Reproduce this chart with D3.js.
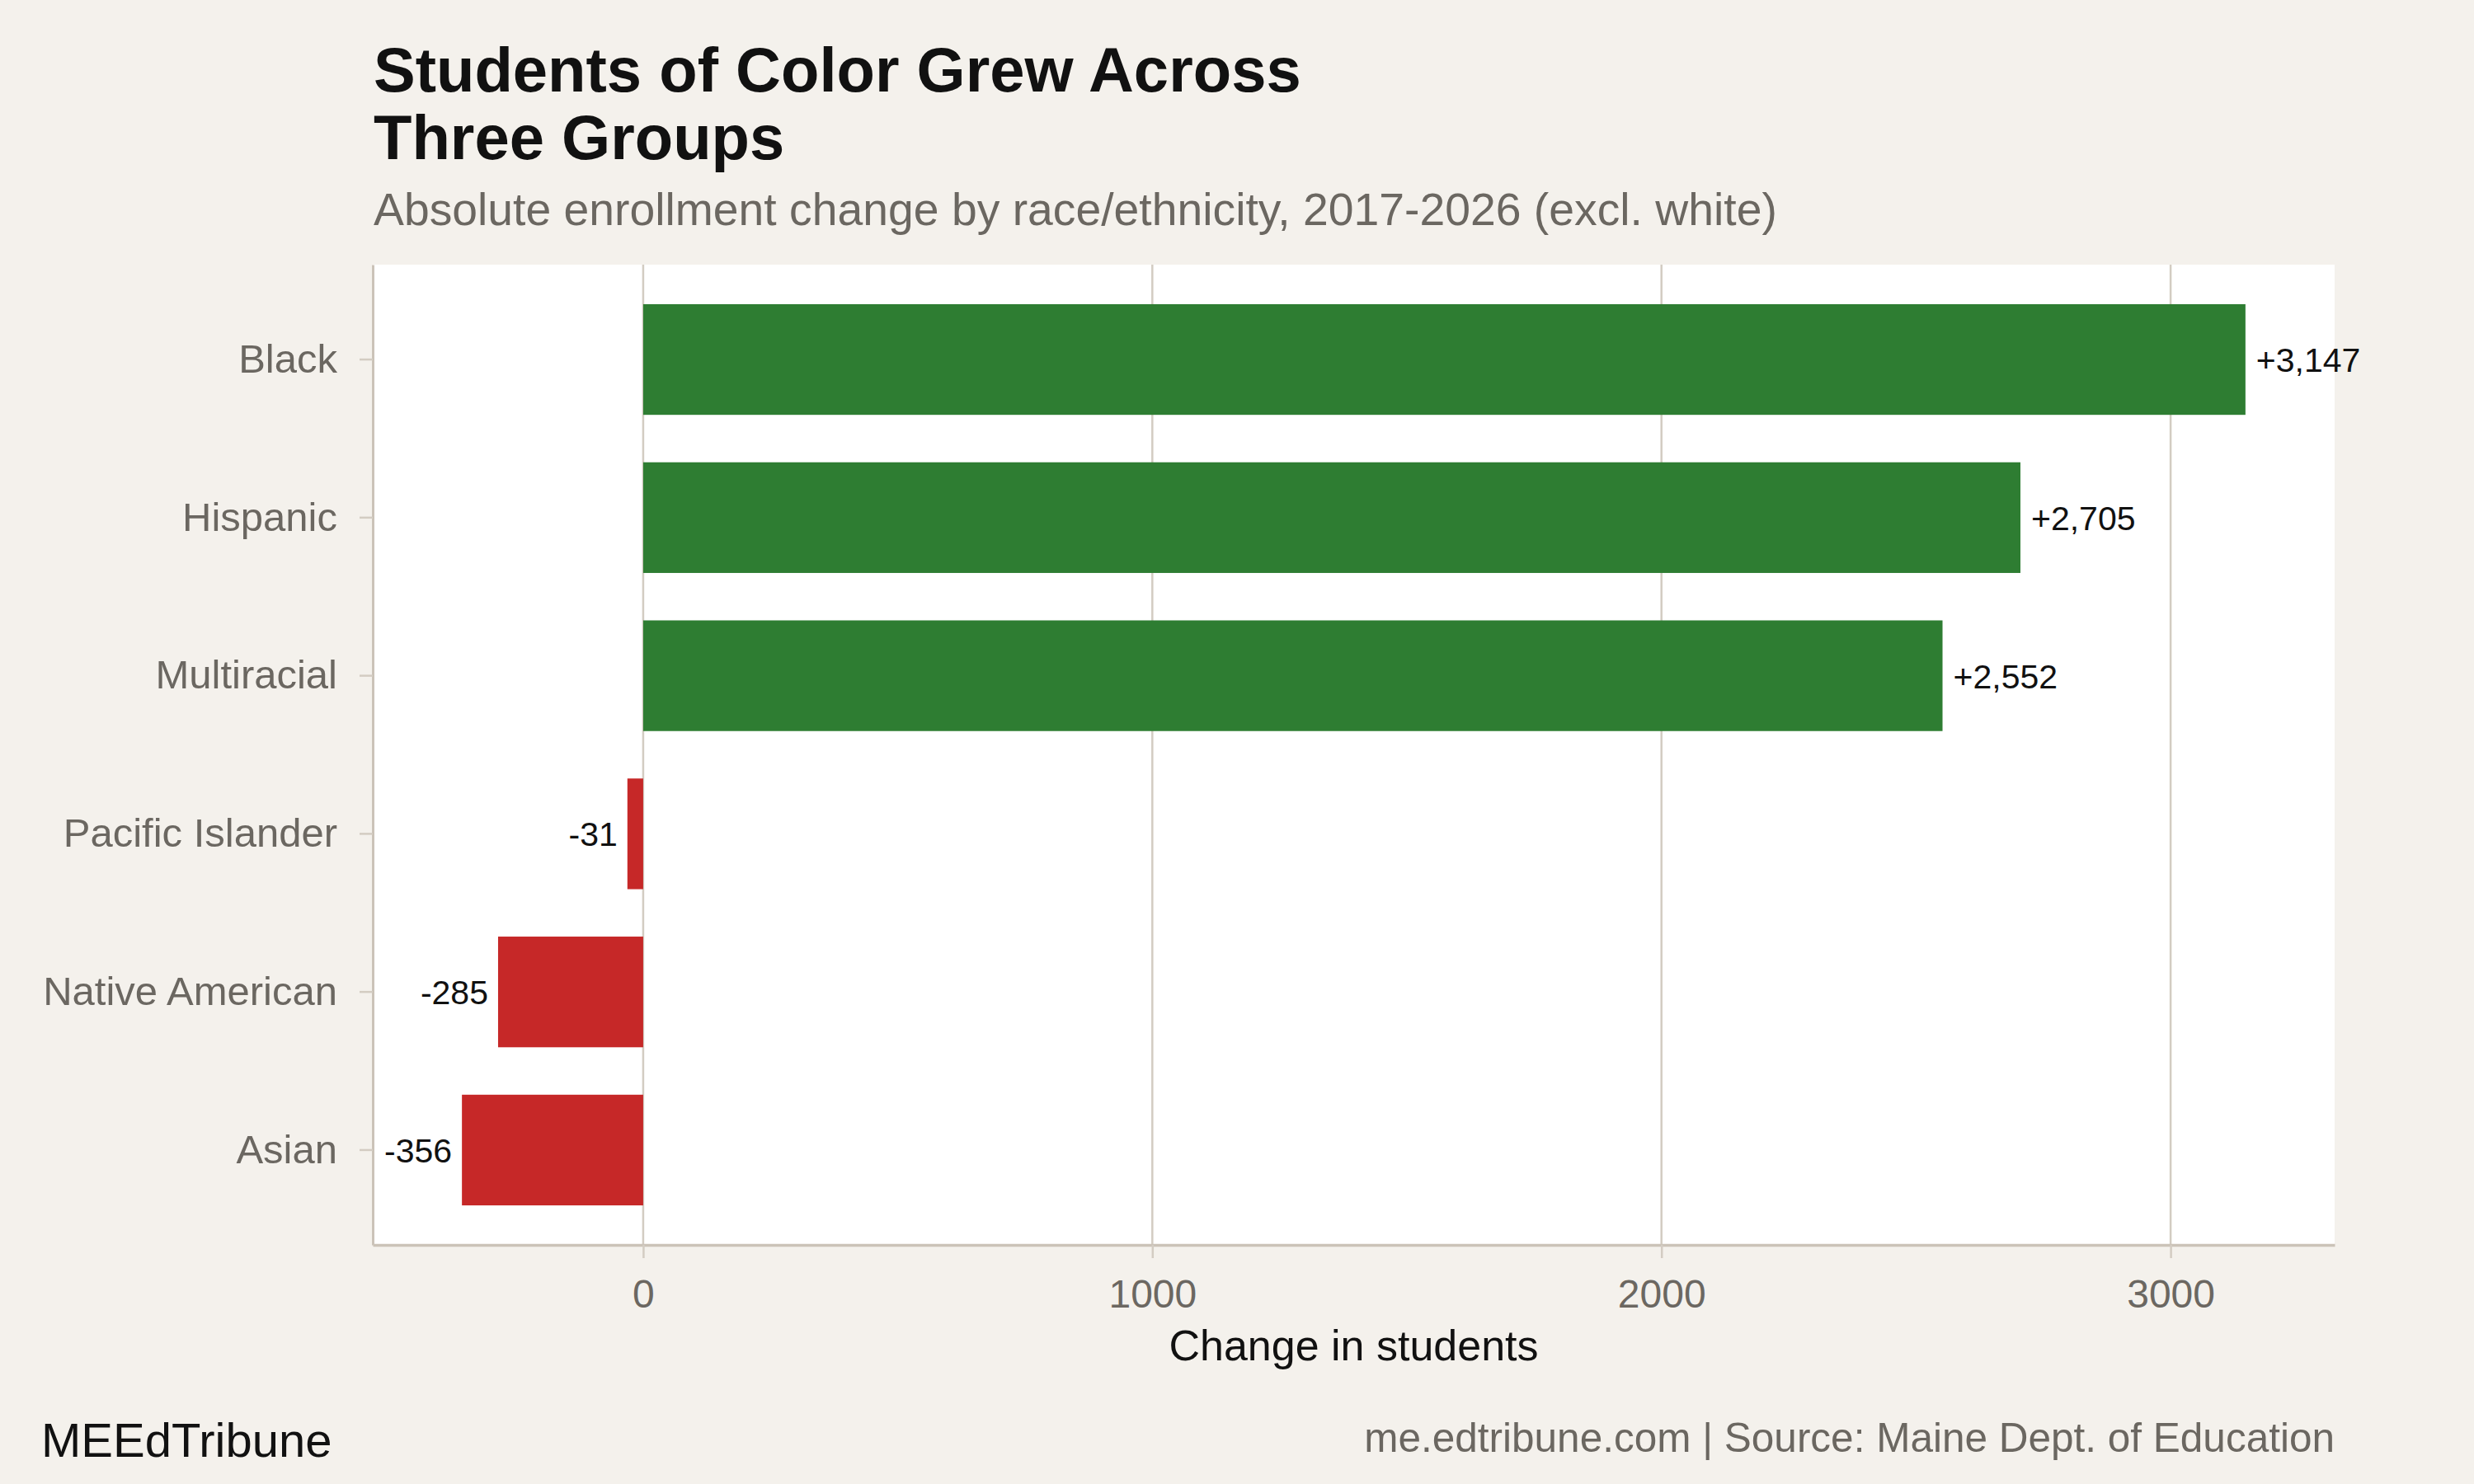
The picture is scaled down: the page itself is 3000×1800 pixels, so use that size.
<!DOCTYPE html>
<html>
<head>
<meta charset="utf-8">
<script src="https://cdn.jsdelivr.net/npm/d3@7"></script>
<style>
  body { margin: 0; background: #F4F1EC; }
  svg { display: block; font-family: "Liberation Sans", Arial, sans-serif; }
</style>
</head>
<body>
<svg></svg>
<script>
var categories = ['Black', 'Hispanic', 'Multiracial', 'Pacific Islander', 'Native American', 'Asian'];
var values = [3147, 2705, 2552, -31, -285, -356];
var xTicks = [0, 1000, 2000, 3000];

var data = categories.map(function(c, i) {
  return { group: c, change: values[i] };
});

// plain hyphen for negatives, like the original
var fmt = d3.formatLocale({decimal: ".", thousands: ",", grouping: [3], currency: ["$", ""], minus: "-"}).format(",");

var W = 3000, H = 1800;
var margin = {top: 321, right: 169, bottom: 290, left: 452},
width = W - margin.left - margin.right,
height = H - margin.top - margin.bottom;

var svg = d3.select('svg')
  .attr("width", W)
  .attr("height", H);

svg.append("rect")
  .attr("width", W).attr("height", H)
  .style("fill", "#F4F1EC");

var g = svg.append("g")
  .attr("transform", "translate(" + margin.left + "," + margin.top + ")");

// ggplot-style 5% expansion
var lo = d3.min(values), hi = d3.max(values), pad = (hi - lo) * 0.05;
var x = d3.scaleLinear()
  .domain([lo - pad, hi + pad])
  .range([0, width]);

var y = d3.scaleBand()
  .domain(categories)
  .range([0, height])
  .paddingInner(0.3)
  .paddingOuter(0.25);

g.append("rect")
  .attr("width", width).attr("height", height)
  .style("fill", "#ffffff");

// gridlines
g.selectAll('.grid')
  .data(xTicks)
  .enter().append('line')
  .attr("x1", function(d) { return x(d); })
  .attr("x2", function(d) { return x(d); })
  .attr("y1", 0).attr("y2", height)
  .style("stroke", "#D3CCC2")
  .style("stroke-width", 2.5);

g.selectAll('.bar')
  .data(data)
  .enter().append('rect')
  .attr("x", function(d) { return x(Math.min(0, d.change)); })
  .attr("y", function(d) { return y(d.group); })
  .attr("width", function(d) { return Math.abs(x(d.change) - x(0)); })
  .attr("height", y.bandwidth())
  .style("fill", function(d) { return d.change >= 0 ? "#2E7D32" : "#C62828"; });

g.selectAll('.val')
  .data(data)
  .enter().append('text')
  .attr("x", function(d) { return d.change >= 0 ? x(d.change) + 13 : x(d.change) - 12; })
  .attr("y", function(d) { return y(d.group) + y.bandwidth() / 2 + 15; })
  .style("text-anchor", function(d) { return d.change >= 0 ? "start" : "end"; })
  .style("font-size", "41px")
  .style("fill", "#111")
  .text(function(d) { return (d.change >= 0 ? "+" : "") + fmt(d.change); });

// axes
var xAxis = g.append("g")
  .attr("transform", "translate(0," + height + ")")
  .call(d3.axisBottom(x).tickValues(xTicks).tickSize(16).tickSizeOuter(0).tickPadding(26).tickFormat(d3.format("d")));
xAxis.select(".domain").style("stroke", "#CBC3B8").style("stroke-width", 3.5);
xAxis.selectAll(".tick line").style("stroke", "#D3CCC2").style("stroke-width", 2.5);
xAxis.selectAll(".tick text")
  .style("font-size", "48px").style("fill", "#6B6761")
  .style("font-family", "Liberation Sans, Arial, sans-serif");

var yAxis = g.append("g")
  .call(d3.axisLeft(y).tickSize(16).tickSizeOuter(0).tickPadding(27));
yAxis.select(".domain").style("stroke", "#CBC3B8").style("stroke-width", 3);
yAxis.selectAll(".tick line").style("stroke", "#D3CCC2").style("stroke-width", 2.5);
yAxis.selectAll(".tick text")
  .style("font-size", "49px").style("fill", "#6B6761")
  .style("font-family", "Liberation Sans, Arial, sans-serif");

// titles
svg.append("text")
  .attr("x", 453).attr("y", 111)
  .style("font-size", "76px").style("font-weight", "bold").style("fill", "#111")
  .text("Students of Color Grew Across");
svg.append("text")
  .attr("x", 453).attr("y", 193)
  .style("font-size", "76px").style("font-weight", "bold").style("fill", "#111")
  .text("Three Groups");
svg.append("text")
  .attr("x", 453).attr("y", 273)
  .style("font-size", "55.3px").style("fill", "#6B6761")
  .text("Absolute enrollment change by race/ethnicity, 2017-2026 (excl. white)");

svg.append("text")
  .attr("x", margin.left + width / 2).attr("y", 1650)
  .style("font-size", "52px").style("fill", "#111")
  .style("text-anchor", "middle")
  .text("Change in students");

svg.append("text")
  .attr("x", 50).attr("y", 1767)
  .style("font-size", "58px").style("fill", "#111")
  .text("MEEdTribune");

svg.append("text")
  .attr("x", margin.left + width).attr("y", 1761)
  .style("font-size", "49.5px").style("fill", "#6B6761")
  .style("text-anchor", "end")
  .text("me.edtribune.com | Source: Maine Dept. of Education");
</script>
</body>
</html>
